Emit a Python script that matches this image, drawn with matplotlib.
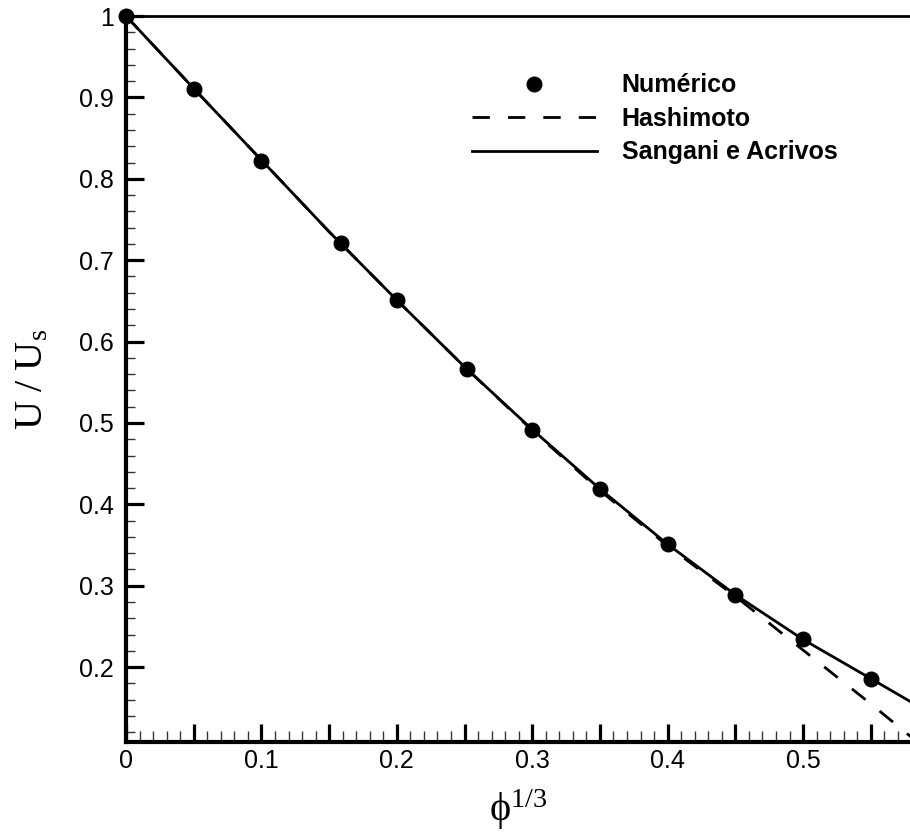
import numpy as np
import matplotlib
matplotlib.use('Agg')
import matplotlib.pyplot as plt
from matplotlib.ticker import MultipleLocator, FuncFormatter

# Pontos numéricos
phi_num = [0.0, 0.05, 0.10, 0.1585, 0.20, 0.2516, 0.30, 0.35, 0.40, 0.45, 0.50, 0.55]
u_num = [1.0, 0.910, 0.822, 0.721, 0.651, 0.566, 0.492, 0.4185, 0.351, 0.289, 0.234, 0.186]

# Hashimoto
phi_hash = [0.0, 0.05, 0.10, 0.15, 0.20, 0.25, 0.30, 0.35, 0.40, 0.425, 0.45, 0.475, 0.50, 0.525, 0.55, 0.58]
u_hash = [1.0, 0.911, 0.823, 0.735, 0.651, 0.569, 0.491, 0.417, 0.349, 0.318, 0.287, 0.254, 0.221, 0.188, 0.155, 0.114]

# Sangani e Acrivos
phi_sa = [0.0, 0.05, 0.10, 0.15, 0.20, 0.25, 0.30, 0.35, 0.40, 0.45, 0.50, 0.55, 0.58]
u_sa = [1.0, 0.911, 0.823, 0.735, 0.651, 0.569, 0.492, 0.419, 0.351, 0.289, 0.234, 0.186, 0.157]

plt.rcParams['font.family'] = ['Liberation Sans', 'DejaVu Sans']
plt.rcParams['mathtext.fontset'] = 'custom'
plt.rcParams['mathtext.rm'] = 'Liberation Serif'
plt.rcParams['mathtext.it'] = 'Liberation Serif:italic'
plt.rcParams['lines.scale_dashes'] = False

fig = plt.figure(figsize=(9.1, 8.36), dpi=100)
ax = fig.add_axes([0.1385, 0.1124, 0.863, 0.8684])

ax.plot(phi_hash, u_hash, color='black', lw=2.0, dashes=(12.5, 13), label='Hashimoto', clip_on=False)
ax.plot(phi_sa, u_sa, color='black', lw=2.0, label='Sangani e Acrivos', clip_on=False)
ax.plot(phi_num, u_num, 'o', color='black', ms=10.5, label='Numérico', clip_on=False, zorder=5)

ax.set_xlim(0, 0.58)
ax.set_ylim(0.108, 1.0)

ax.xaxis.set_major_locator(MultipleLocator(0.05))
ax.xaxis.set_minor_locator(MultipleLocator(0.01))
ax.yaxis.set_major_locator(MultipleLocator(0.1))
ax.yaxis.set_minor_locator(MultipleLocator(0.02))


def fmt_x(v, pos):
    if abs(v * 10 - round(v * 10)) < 1e-6:
        return '%g' % round(v, 2)
    return ''


ax.xaxis.set_major_formatter(FuncFormatter(fmt_x))
ax.yaxis.set_major_formatter(FuncFormatter(lambda v, p: '%g' % round(v, 2)))

ax.tick_params(which='major', direction='in', length=13, width=2.3, labelsize=18, colors='black')
ax.tick_params(axis='y', which='major', pad=9)
ax.tick_params(axis='x', which='major', pad=5)
ax.tick_params(axis='x', which='minor', direction='in', length=8, width=1.0, color='#333333')
ax.tick_params(axis='y', which='minor', direction='in', length=6.5, width=1.0, color='#333333')

ax.spines['left'].set_linewidth(3.0)
ax.spines['bottom'].set_linewidth(3.0)
ax.spines['top'].set_linewidth(2.0)
ax.spines['right'].set_visible(False)

ax.set_ylabel(r'$\mathrm{U\ /\ U_s}$', fontsize=29)
ax.yaxis.set_label_coords(-0.097, 0.5)
ax.set_xlabel('$\\mathrm{\u03d5}^{1/3}$', fontsize=29)
ax.xaxis.set_label_coords(0.5, -0.063)

handles, labels = ax.get_legend_handles_labels()
order = [2, 0, 1]
leg = ax.legend([handles[i] for i in order], [labels[i] for i in order],
                loc='upper left', bbox_to_anchor=(0.44, 0.921), frameon=False,
                numpoints=1, handlelength=5.0, handletextpad=1.0, labelspacing=0.38,
                borderpad=0, borderaxespad=0,
                prop={'family': 'Liberation Sans', 'weight': 'bold', 'size': 18})

fig.savefig('out.png', dpi=100)
